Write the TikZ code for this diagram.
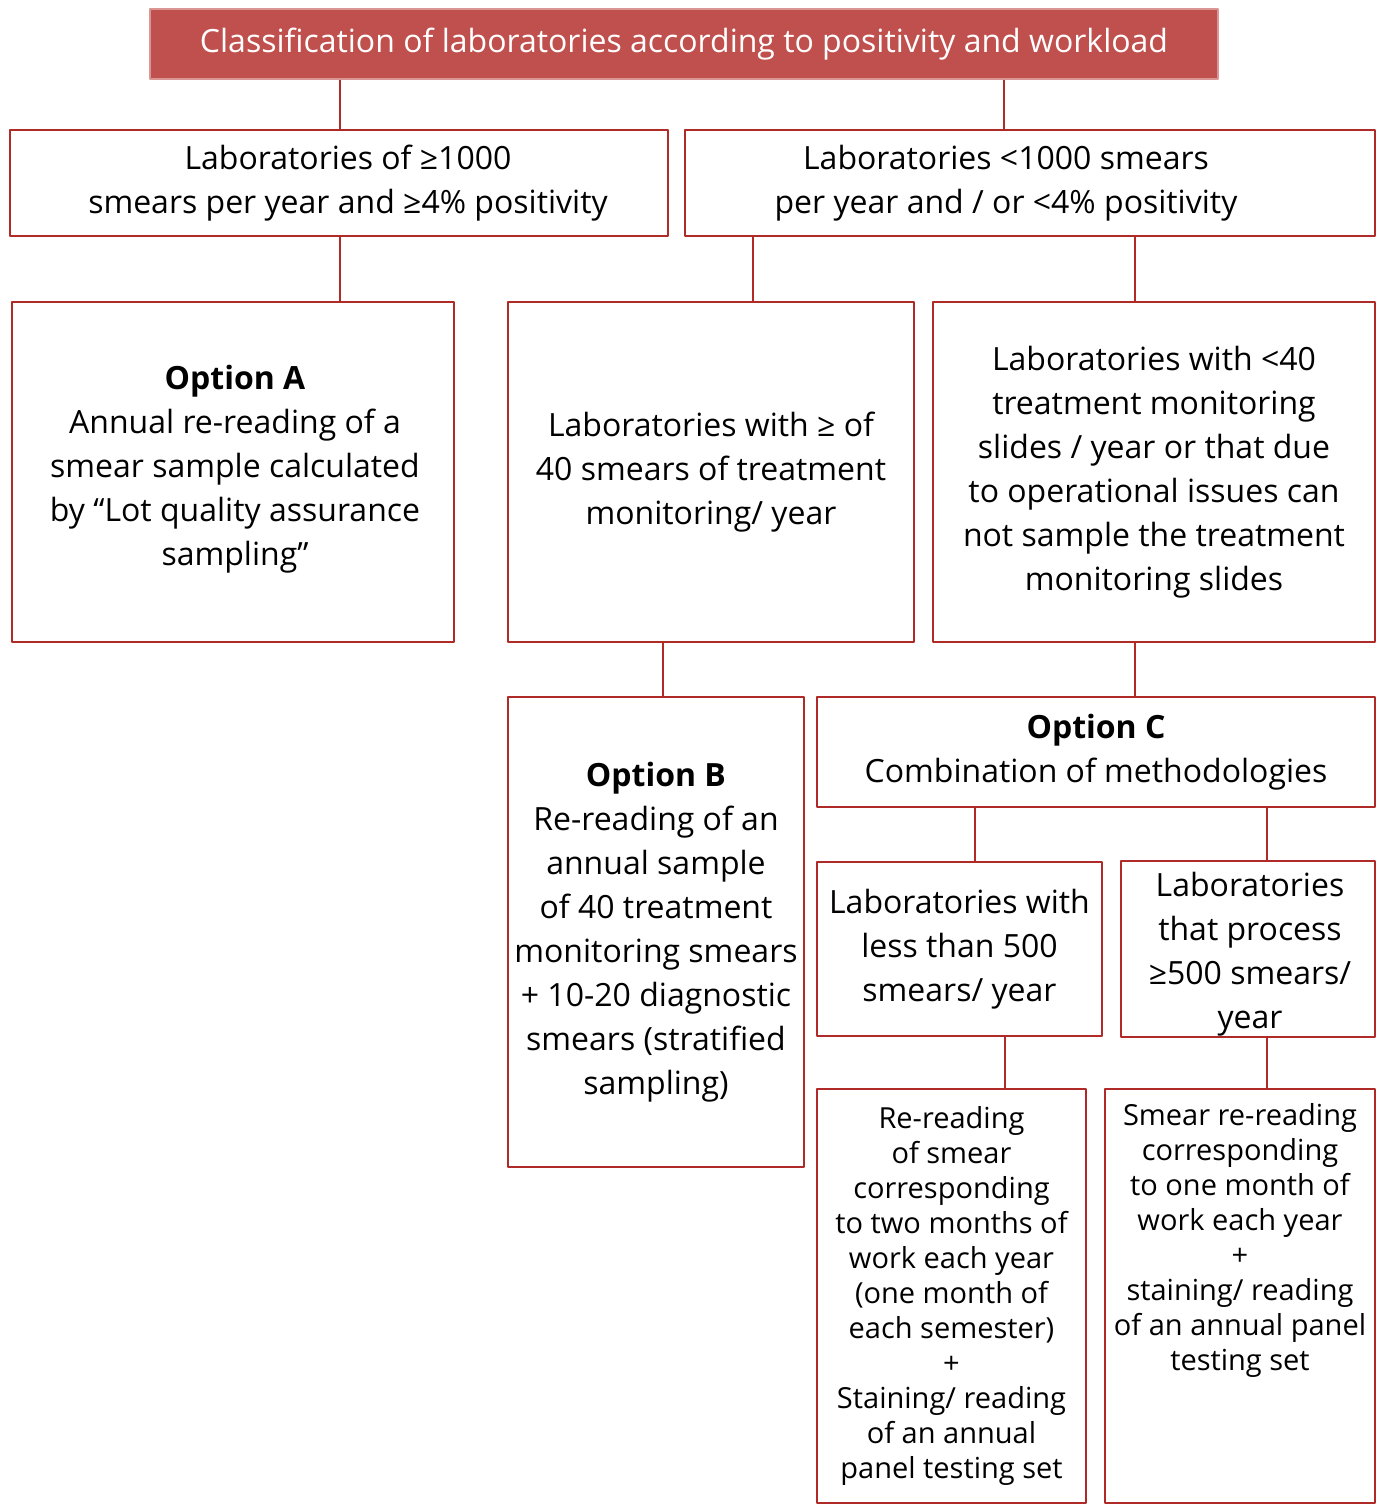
\documentclass[tikz,border=0pt]{standalone}
\usepackage{fontspec}
\setmainfont{Open Sans}
\definecolor{boxred}{RGB}{176,42,40}
\definecolor{headred}{RGB}{192,80,77}
\definecolor{headedge}{RGB}{217,150,148}
% text block moved by (#1 right, #2 up) inside its box
\newcommand{\movedtext}[3]{\raisebox{#2}[\height][\depth]{\hspace*{#1}\begin{tabular}{@{}c@{}}#3\end{tabular}\hspace*{-#1}}}
\tikzset{
  labbox/.style={draw=boxred, line width=1.4pt, fill=white, align=center, inner sep=0pt,
    font=\fontsize{16}{22}\selectfont},
  smallbox/.style={labbox, font=\fontsize{14.5}{17.5}\selectfont},
  link/.style={draw=boxred, line width=1.3pt}
}
\begin{document}
\begin{tikzpicture}[x=0.5pt, y=-0.5pt, line join=round]
	\useasboundingbox (0,0) rectangle (1386,1505);
	% top row
	\node[labbox, fill=headred, draw=headedge, line width=0.8pt, text=white,
	      minimum width=534pt, minimum height=35pt] (head) at (684,44)
	      {Classification of laboratories according to positivity and workload};
	\node[labbox, minimum width=329pt, minimum height=53pt] (big) at (339,183)
	      {\movedtext{4.5pt}{0pt}{Laboratories of ≥1000\\smears per year and ≥4\% positivity}};
	\node[labbox, minimum width=345pt, minimum height=53pt] (small) at (1030,183)
	      {\movedtext{-12pt}{0pt}{Laboratories <1000 smears\\per year and / or <4\% positivity}};
	% second row
	\node[labbox, minimum width=221pt, minimum height=170pt] (optA) at (233,472)
	      {\movedtext{1pt}{1.5pt}{\textbf{Option A}\\Annual re-reading of a\\smear sample calculated\\by “Lot quality assurance\\sampling”}};
	\node[labbox, minimum width=203pt, minimum height=170pt] (many) at (711,472)
	      {Laboratories with ≥ of\\40 smears of treatment\\monitoring/ year};
	\node[labbox, minimum width=221pt, minimum height=170pt] (few) at (1154,472)
	      {Laboratories with <40\\treatment monitoring\\slides / year or that due\\to operational issues can\\not sample the treatment\\monitoring slides};
	% options B and C
	\node[labbox, minimum width=148pt, minimum height=235pt] (optB) at (656,932)
	      {\textbf{Option B}\\Re-reading of an\\annual sample\\of 40 treatment\\monitoring smears\\+ 10-20 diagnostic\\smears (stratified\\sampling)};
	\node[labbox, minimum width=279pt, minimum height=55pt] (optC) at (1096,752)
	      {\textbf{Option C}\\Combination of methodologies};
	\node[labbox, minimum width=142.5pt, minimum height=87pt] (less) at (959.5,949)
	      {Laboratories with\\less than 500\\smears/ year};
	\node[labbox, minimum width=127pt, minimum height=87pt] (more) at (1248,949)
	      {\movedtext{1pt}{-2.5pt}{Laboratories\\that process\\≥500 smears/\\year}};
	\node[smallbox, minimum width=134.5pt, minimum height=207pt] (twomonth) at (951.5,1296)
	      {Re-reading\\of smear\\corresponding\\to two months of\\work each year\\(one month of\\each semester)\\+\\Staining/ reading\\of an annual\\panel testing set};
	\node[smallbox, minimum width=135pt, minimum height=207pt] (onemonth) at (1240,1296)
	      {\parbox[c][193pt][t]{135pt}{\centering Smear re-reading\\corresponding\\to one month of\\work each year\\+\\staining/ reading\\of an annual panel\\testing set}};
	% connectors
	\draw[link] (head.south -| 340,0) -- (big.north -| 340,0);
	\draw[link] (head.south -| 1004,0) -- (small.north -| 1004,0);
	\draw[link] (big.south -| 340,0) -- (optA.north -| 340,0);
	\draw[link] (small.south -| 753,0) -- (many.north -| 753,0);
	\draw[link] (small.south -| 1135,0) -- (few.north -| 1135,0);
	\draw[link] (many.south -| 663,0) -- (optB.north -| 663,0);
	\draw[link] (few.south -| 1135,0) -- (optC.north -| 1135,0);
	\draw[link] (optC.south -| 975,0) -- (less.north -| 975,0);
	\draw[link] (optC.south -| 1267,0) -- (more.north -| 1267,0);
	\draw[link] (less.south -| 1005,0) -- (twomonth.north -| 1005,0);
	\draw[link] (more.south -| 1267,0) -- (onemonth.north -| 1267,0);
\end{tikzpicture}
\end{document}
